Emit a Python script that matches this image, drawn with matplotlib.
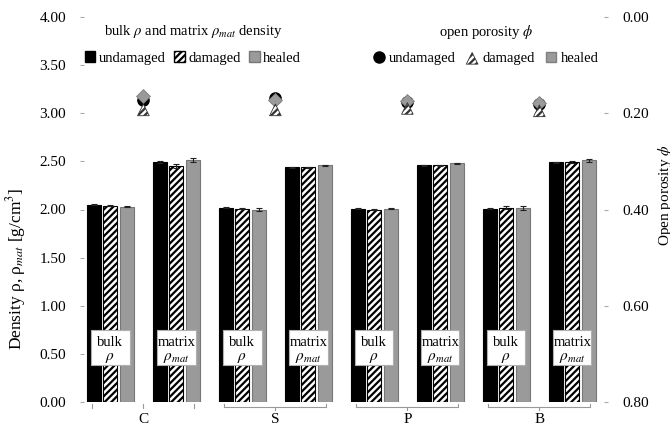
import numpy as np
import matplotlib
matplotlib.use("Agg")
import matplotlib.pyplot as plt
from matplotlib.patches import Patch, Rectangle
from matplotlib.lines import Line2D
from matplotlib.transforms import blended_transform_factory

plt.rcParams["font.family"] = ["Liberation Serif", "DejaVu Serif"]
plt.rcParams["mathtext.fontset"] = "stix"
plt.rcParams["hatch.linewidth"] = 1.6

GROUPS = ["C", "S", "P", "B"]
STATES = ["undamaged", "damaged", "healed"]

# density per group: [undamaged, damaged, healed]
bulk = np.array([[2.05, 2.04, 2.03],
                 [2.02, 2.01, 2.00],
                 [2.01, 2.00, 2.01],
                 [2.01, 2.02, 2.02]])
bulk_err = np.array([[0.008, 0.005, 0.005],
                     [0.004, 0.005, 0.015],
                     [0.004, 0.004, 0.005],
                     [0.005, 0.015, 0.02]])
matrix = np.array([[2.49, 2.45, 2.51],
                   [2.44, 2.44, 2.46],
                   [2.46, 2.46, 2.48],
                   [2.49, 2.49, 2.51]])
matrix_err = np.array([[0.01, 0.02, 0.02],
                       [0.005, 0.005, 0.005],
                       [0.004, 0.004, 0.004],
                       [0.008, 0.012, 0.012]])
# open porosity per group: [undamaged, damaged, healed]
porosity = np.array([[0.172, 0.193, 0.164],
                     [0.168, 0.193, 0.172],
                     [0.177, 0.190, 0.175],
                     [0.180, 0.195, 0.178]])

BLACK = "#000000"
GREY = "#9a9a9a"
bar_w = 0.21
step = 0.25

fig = plt.figure(figsize=(6.7, 4.25), dpi=100)
ax = fig.add_axes([84 / 670, 1 - 402 / 425, 520 / 670, 385 / 425])
ax2 = ax.twinx()

styles = [dict(color=BLACK, edgecolor=BLACK),
          dict(color="white", edgecolor=BLACK, hatch="/////"),
          dict(color=GREY, edgecolor="#777777")]

for g in range(len(GROUPS)):
    for kind, (vals, errs) in enumerate(((bulk, bulk_err), (matrix, matrix_err))):
        centre = 2 * g + kind
        for s in range(3):
            x = centre + (s - 1) * step
            ax.bar(x, vals[g, s], width=bar_w, linewidth=0.8, zorder=2, **styles[s])
            ax.errorbar(x, vals[g, s], yerr=errs[g, s], color="#222222",
                        elinewidth=0.8, capsize=2.2, capthick=0.8, zorder=3)
        # label box sitting on the bars
        ax.add_patch(Rectangle((centre - 0.29, 0.38), 0.58, 0.37, facecolor="white",
                               edgecolor="#b0b0b0", linewidth=0.8, zorder=4))
        top, sym = ("bulk", r"$\rho$") if kind == 0 else ("matrix", r"$\rho_{mat}$")
        ax.text(centre, 0.615, top, ha="center", va="center", fontsize=10.5, zorder=5)
        ax.text(centre, 0.455, sym, ha="center", va="center", fontsize=11, zorder=5)

ax.set_xlim(-0.40, 7.48)
ax.set_ylim(0, 4)
ax.set_yticks(np.arange(0, 4.01, 0.5))
ax.set_yticklabels([f"{v:.2f}" for v in np.arange(0, 4.01, 0.5)])
ax.set_xticks([])
ax.tick_params(axis="y", length=3, width=0.8, color="#aaaaaa", pad=10, labelsize=11)
for sp in ax.spines.values():
    sp.set_visible(False)
ax.set_ylabel(r"Density ρ, ρ$_{mat}$ [g/cm$^{3}$]", fontsize=12.5)
ax.yaxis.set_label_coords(-0.108, 0.345)

# porosity markers on the inverted right-hand axis
xc = np.arange(len(GROUPS)) * 2 + 0.5
ax2.scatter(xc, porosity[:, 0], s=65, marker="o", color=BLACK, zorder=3)
ax2.scatter(xc, porosity[:, 2], s=50, marker="D", color=GREY, edgecolor="#808080",
            linewidth=0.6, zorder=4)
tri = ax2.scatter(xc, porosity[:, 1], s=70, marker="^", facecolor="white",
                  edgecolor="#333333", linewidth=0.6, hatch="/////", zorder=5)
ax2.set_ylim(0.8, 0)
ax2.set_yticks(np.arange(0, 0.81, 0.2))
ax2.set_yticklabels([f"{v:.2f}" for v in np.arange(0, 0.81, 0.2)])
ax2.tick_params(axis="y", length=3, width=0.8, color="#aaaaaa", pad=10, labelsize=11)
for sp in ax2.spines.values():
    sp.set_visible(False)
fig.text(665 / 670, 1 - 195 / 425, r"Open porosity $\phi$", rotation=90,
         ha="center", va="center", fontsize=11)

# group brackets under the bar pairs
tr = blended_transform_factory(ax.transData, ax.transAxes)
for g, name in enumerate(GROUPS):
    x0, x1, xm = 2 * g - 0.28, 2 * g + 1.27, 2 * g + 0.5
    if g == 0:
        for xx in (x0, x1, xm):
            ax.plot([xx, xx], [-0.006, -0.016], color="#999999", lw=0.8,
                    transform=tr, clip_on=False)
    else:
        ax.plot([x0, x0, x1, x1], [-0.006, -0.014, -0.014, -0.006], color="#999999",
                lw=0.8, transform=tr, clip_on=False)
        ax.plot([xm, xm], [-0.014, -0.022], color="#999999", lw=0.8,
                transform=tr, clip_on=False)
    ax.text(xm, -0.045, name, transform=tr, ha="center", va="center", fontsize=11)

# legends
left_handles = [Patch(facecolor=BLACK, edgecolor=BLACK),
                Patch(facecolor="white", edgecolor=BLACK, hatch="/////"),
                Patch(facecolor=GREY, edgecolor="#777777")]
leg1 = fig.legend(left_handles, STATES, loc="center", ncol=3, frameon=False,
                  bbox_to_anchor=(193 / 670, 1 - 44 / 425), fontsize=10.5,
                  title=r"bulk $\rho$ and matrix $\rho_{mat}$ density", title_fontsize=10.5,
                  handlelength=0.7, handleheight=0.7, handletextpad=0.25,
                  columnspacing=0.6)
right_handles = [Line2D([], [], marker="o", ls="none", color=BLACK, markersize=8),
                 tri,
                 Line2D([], [], marker="s", ls="none", color=GREY,
                        markeredgecolor="#808080", markersize=7.5)]
leg2 = fig.legend(right_handles, STATES, loc="center", ncol=3, frameon=False,
                  bbox_to_anchor=(486 / 670, 1 - 44 / 425), fontsize=10.5,
                  title=r"open porosity $\phi$", title_fontsize=10.5,
                  handlelength=0.8, handletextpad=0.3, columnspacing=0.7,
                  scatterpoints=1)
for leg in (leg1, leg2):
    leg._legend_box.sep = 8

fig.savefig("out.png", dpi=100)
